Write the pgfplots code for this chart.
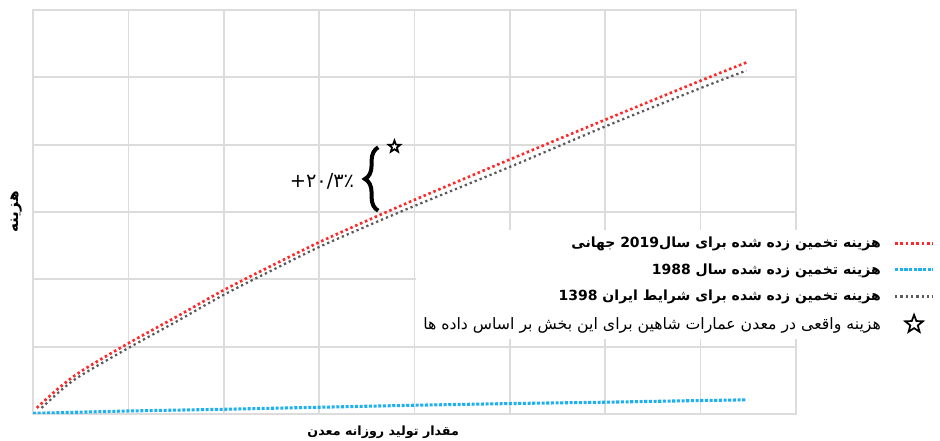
\documentclass[border=0pt]{standalone}
\usepackage{fontspec}
\usepackage{pgfplots}
\pgfplotsset{compat=1.18}
\usetikzlibrary{decorations.pathreplacing}
\setmainfont{DejaVu Sans}
\newfontfamily\arabicfont[Script=Arabic]{DejaVu Sans}
\TeXXeTstate=1
\definecolor{myred}{RGB}{255,40,40}
\definecolor{myblue}{RGB}{30,176,240}
\definecolor{mygrey}{RGB}{90,90,90}
\definecolor{gridc}{RGB}{220,220,220}
\pgfdeclareplotmark{ostar}{%
  \pgfpathmoveto{\pgfpointpolar{90}{\pgfplotmarksize}}%
  \pgfpathlineto{\pgfpointpolar{126}{0.42\pgfplotmarksize}}%
  \pgfpathlineto{\pgfpointpolar{162}{\pgfplotmarksize}}%
  \pgfpathlineto{\pgfpointpolar{198}{0.42\pgfplotmarksize}}%
  \pgfpathlineto{\pgfpointpolar{234}{\pgfplotmarksize}}%
  \pgfpathlineto{\pgfpointpolar{270}{0.42\pgfplotmarksize}}%
  \pgfpathlineto{\pgfpointpolar{306}{\pgfplotmarksize}}%
  \pgfpathlineto{\pgfpointpolar{342}{0.42\pgfplotmarksize}}%
  \pgfpathlineto{\pgfpointpolar{18}{\pgfplotmarksize}}%
  \pgfpathlineto{\pgfpointpolar{54}{0.42\pgfplotmarksize}}%
  \pgfpathclose
  \pgfusepathqfillstroke}
\pgfplotsset{
  linelegend/.style={legend image code/.code={\draw[##1] (0cm,0cm) -- (1cm,0cm);}},
  starlegend/.style={legend image code/.code={\draw[draw=none, fill=none] (0cm,0cm) -- (1cm,0cm); \draw[##1, only marks, mark size=7pt] plot coordinates {(0.5cm,0cm)};}},
}
\begin{document}
\begin{tikzpicture}
\useasboundingbox (0,0) rectangle (705pt,330.75pt);
\begin{axis}[
  at={(24.75pt,20.25pt)}, anchor=south west,
  width=572.25pt, height=303pt, scale only axis,
  xmin=0, xmax=8, ymin=0, ymax=6,
  xtick={0,...,8}, ytick={0,...,6},
  xticklabels={}, yticklabels={},
  major tick length=0pt,
  grid=major,
  grid style={gridc, line width=1.3pt},
  axis line style={gridc, line width=1.3pt},
  xlabel={\arabicfont\bfseries\beginR مقدار تولید روزانه معدن\endR},
  ylabel={\arabicfont\bfseries\beginR هزینه\endR},
  xlabel style={at={(axis description cs:0.459,-0.045)}, anchor=center, font=\fontsize{9.5}{11}\selectfont},
  ylabel style={at={(axis description cs:-0.022,0.5)}, anchor=center, font=\fontsize{11.5}{13}\selectfont},
  legend plot pos=right,
  legend cell align=right,
  linelegend,
  legend style={at={(1.189,0.457)}, anchor=north east, draw=none, fill=white,
    font=\fontsize{10.5}{12}\selectfont, row sep=7.5pt, inner sep=4pt,
    nodes={inner sep=1.5pt},
    /tikz/every odd column/.append style={column sep=8pt}},
]
\addplot[myred, line width=2pt, dash pattern=on 1.9pt off 2.1pt, smooth] coordinates {
(0.04,0.09) (0.25,0.36) (0.5,0.63) (1,1.05) (1.5,1.44) (2,1.84) (2.5,2.20) (3,2.55) (3.5,2.87) (4,3.18) (5,3.78) (6,4.37) (7,4.95) (7.48,5.22)};
\addlegendentry{\arabicfont\bfseries\beginR هزینه تخمین زده شده برای سال\beginL 2019\endL{} جهانی\endR}
\addplot[myblue, line width=2.3pt, dash pattern=on 2.3pt off 1.2pt] coordinates {
(0,0.01) (1,0.045) (2,0.07) (3,0.10) (4,0.13) (5,0.155) (6,0.175) (7,0.20) (7.48,0.21)};
\addlegendentry{\arabicfont\bfseries\beginR هزینه تخمین زده شده سال \beginL 1988\endL\endR}
\addplot[mygrey, line width=1.7pt, dash pattern=on 1.7pt off 2.3pt, smooth] coordinates {
(0.09,0.09) (0.3,0.36) (0.5,0.57) (1,0.98) (1.5,1.37) (2,1.77) (2.5,2.13) (3,2.48) (3.5,2.79) (4,3.09) (5,3.67) (6,4.27) (7,4.84) (7.48,5.10)};
\addlegendentry{\arabicfont\bfseries\beginR هزینه تخمین زده شده برای شرایط ایران \beginL 1398\endL\endR}
\addplot[only marks, mark=ostar, mark size=4.6pt, mark options={draw=black, fill=white, line width=1.3pt}, starlegend] coordinates {(3.79,3.97)};
\addlegendentry{\arabicfont\fontsize{11.8}{13}\selectfont\beginR هزینه واقعی در معدن عمارات شاهین برای این بخش بر اساس داده ها\endR}
\draw[decorate, decoration={brace, amplitude=10pt}, line width=3pt, black] (axis cs:3.62,3.02) -- (axis cs:3.62,3.96);
\node[font=\fontsize{14.5}{16}\selectfont, anchor=center] at (axis cs:3.03,3.46) {+۲۰/۳٪};
\end{axis}
\end{tikzpicture}
\end{document}
